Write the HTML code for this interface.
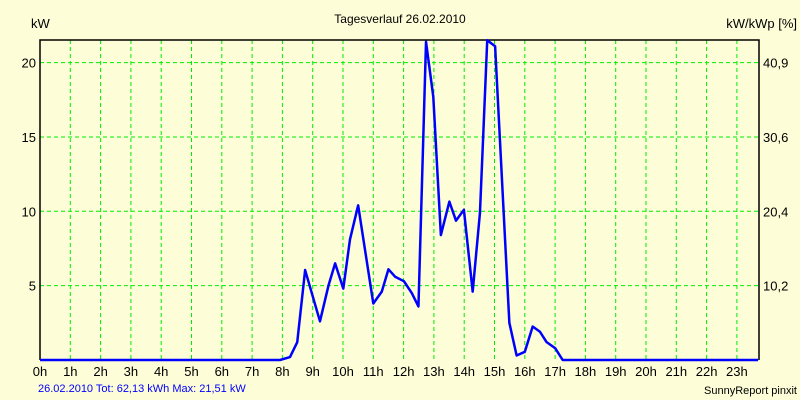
<!DOCTYPE html>
<html><head><meta charset="utf-8"><style>
body{margin:0;background:#ffffd8;}
svg{display:block;font-family:"Liberation Sans",sans-serif;}
</style></head><body>
<svg id="c" width="800" height="400">
<rect width="800" height="400" fill="#fdfdd8"/>
<text x="400" y="23" font-size="12" text-anchor="middle">Tagesverlauf 26.02.2010</text>
<text x="31" y="28" font-size="13">kW</text>
<text x="797" y="28" font-size="13" text-anchor="end">kW/kWp [%]</text>
<g id="grid"></g>
<g id="axes"></g>
<text x="38" y="392" font-size="11" fill="#0000ff">26.02.2010 Tot: 62,13 kWh Max: 21,51 kW</text>
<text x="797" y="394" font-size="11" text-anchor="end">SunnyReport pinxit</text>
</svg>
<script>
const hours = [0,7.92,8.25,8.49,8.75,9.24,9.52,9.74,10.01,10.23,10.5,11.0,11.28,11.5,11.72,12.01,12.27,12.49,12.74,12.98,13.23,13.51,13.73,13.99,14.28,14.52,14.76,15.02,15.49,15.73,16.0,16.26,16.5,16.72,17.0,17.25,23.7];
const power = [0,0,0.2,1.2,6.05,2.6,5.0,6.5,4.8,8.1,10.4,3.8,4.6,6.1,5.6,5.3,4.5,3.6,21.4,17.7,8.4,10.65,9.37,10.1,4.6,9.9,21.5,21.1,2.5,0.3,0.55,2.25,1.9,1.2,0.8,0,0];
const yTicks = [5,10,15,20];
const y2Labels = ["10,2","20,4","30,6","40,9"];
const xTicks = [0,1,2,3,4,5,6,7,8,9,10,11,12,13,14,15,16,17,18,19,20,21,22,23];
const L=40,R=759,T=40,B=360;
const xs=h=>L+h*30.3;
const ys=v=>B-v*14.87;
const NS="http://www.w3.org/2000/svg";
const svg=document.getElementById('c');
const grid=document.getElementById('grid');
function mk(tag,attrs,parent){const e=document.createElementNS(NS,tag);for(const k in attrs)e.setAttribute(k,attrs[k]);(parent||svg).appendChild(e);return e;}
xTicks.forEach(h=>{
  if(h>0){const g=mk('line',{x1:xs(h),x2:xs(h),y1:T,y2:B,stroke:'#00ee00','stroke-dasharray':'4,3'},grid);
  
  }
  const t=mk('text',{x:xs(h),y:376,'font-size':13,'text-anchor':'middle'});
  t.textContent=h+'h';
  
  
});
yTicks.forEach((v,i)=>{
  const g=mk('line',{x1:L,x2:R,y1:ys(v),y2:ys(v),stroke:'#00ee00','stroke-dasharray':'4,3'},grid);
  
  
  const t=mk('text',{x:36,y:ys(v)+5,'font-size':13,'text-anchor':'end'});
  t.textContent=v;
  
  
  const t2=mk('text',{x:763,y:ys(v)+5,'font-size':13});
  t2.textContent=y2Labels[i];
  
  
});
const fr=mk('polyline',{points:`${L},${B} ${L},${T} ${R},${T} ${R},${B}`,fill:'none',stroke:'#000','stroke-width':1.5});


const pl=mk('polyline',{points:hours.map((h,i)=>xs(h)+','+ys(power[i])).join(' '),fill:'none',stroke:'#0000ff','stroke-width':2.5,'stroke-linejoin':'round'});


</script>
</body></html>
